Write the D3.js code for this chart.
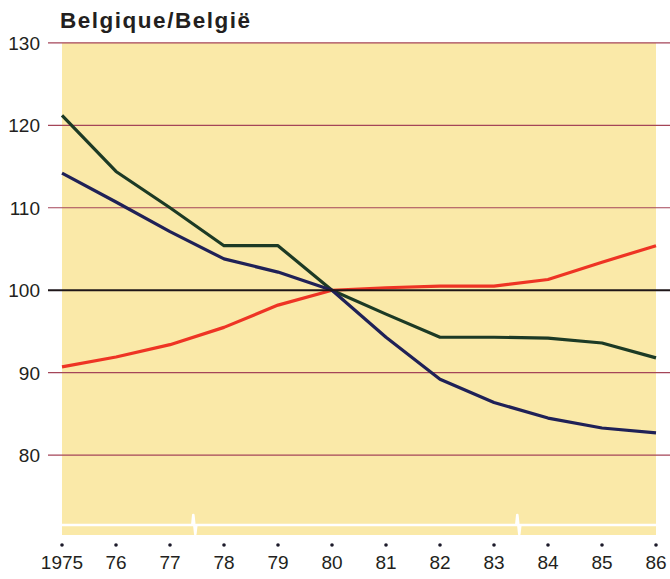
<!DOCTYPE html>
<html>
<head>
<meta charset="utf-8">
<script src="https://cdn.jsdelivr.net/npm/d3@7"></script>
<style>
  html, body { margin: 0; padding: 0; background: #ffffff; }
  svg { display: block; }
  text { font-family: "Liberation Sans", Arial, Helvetica, sans-serif; fill: #231f20; }
</style>
</head>
<body>
<svg id="chart" width="670" height="579"></svg>
<script>
// ---- data ----
const title = "Belgique/België";
const years = [1975, 1976, 1977, 1978, 1979, 1980, 1981, 1982, 1983, 1984, 1985, 1986];
const yearLabels = ["1975", "76", "77", "78", "79", "80", "81", "82", "83", "84", "85", "86"];
const yTicks = [80, 90, 100, 110, 120, 130];
const redSeries   = [90.7, 91.9, 93.4, 95.5, 98.2, 100.0, 100.3, 100.5, 100.5, 101.3, 103.4, 105.4];
const greenSeries = [121.2, 114.4, 110.0, 105.4, 105.4, 100.0, 97.1, 94.3, 94.3, 94.2, 93.6, 91.8];
const navySeries  = [114.2, 110.7, 107.1, 103.8, 102.2, 100.0, 94.3, 89.2, 86.4, 84.5, 83.3, 82.7];
const breakPositions = [1977.45, 1983.45];

// ---- layout ----
const svg = d3.select("#chart");
const x = d3.scaleLinear().domain([1975, 1986]).range([62, 656]);
const y = d3.scaleLinear().domain([80, 130]).range([455.2, 42.8]);

const plotLeft = 62, plotRight = 656, plotTop = y(130), plotBottom = 535;

// yellow background
svg.append("rect")
  .attr("x", plotLeft).attr("y", plotTop)
  .attr("width", plotRight - plotLeft).attr("height", plotBottom - plotTop)
  .attr("fill", "#fae9a8");

// gridlines
svg.append("g").selectAll("line")
  .data(yTicks.filter(d => d !== 100))
  .join("line")
  .attr("x1", 48).attr("x2", 670)
  .attr("y1", d => y(d)).attr("y2", d => y(d))
  .attr("stroke", "#a44558").attr("stroke-width", 1.2);

// y labels
svg.append("g").selectAll("text")
  .data(yTicks)
  .join("text")
  .attr("x", 40).attr("y", d => y(d))
  .attr("dy", "0.36em")
  .attr("text-anchor", "end")
  .attr("font-size", 19)
  .text(d => d);

// white axis break line
const bx = breakPositions.map(b => x(b));
const by = 525;
let p = d3.path();
p.moveTo(plotLeft, by);
bx.forEach(xx => {
  p.lineTo(xx - 2, by);
  p.lineTo(xx - 1, by - 10);
  p.lineTo(xx + 1, by + 9);
  p.lineTo(xx + 2, by);
});
p.lineTo(plotRight, by);
svg.append("path").attr("d", p.toString())
  .attr("fill", "none").attr("stroke", "#ffffff").attr("stroke-width", 2.6)
  .attr("stroke-linejoin", "round");

// series lines
const line = d3.line().x((d, i) => x(years[i])).y(d => y(d));
const series = [
  { values: redSeries, color: "#ee3424" },
  { values: greenSeries, color: "#1c3a25" },
  { values: navySeries, color: "#1f2157" }
];
svg.append("g").selectAll("path")
  .data(series)
  .join("path")
  .attr("d", d => line(d.values))
  .attr("fill", "none")
  .attr("stroke", d => d.color)
  .attr("stroke-width", 3.2)
  .attr("stroke-linejoin", "round");

// 100 baseline
svg.append("line")
  .attr("x1", 48).attr("x2", 670)
  .attr("y1", y(100)).attr("y2", y(100))
  .attr("stroke", "#1e1618").attr("stroke-width", 2);

// x axis dots and labels
const xa = svg.append("g");
xa.selectAll("circle")
  .data(years)
  .join("circle")
  .attr("cx", d => x(d)).attr("cy", 545)
  .attr("r", 1.8).attr("fill", "#1c1a2a");
xa.selectAll("text")
  .data(years)
  .join("text")
  .attr("x", d => x(d)).attr("y", 569)
  .attr("text-anchor", "middle")
  .attr("font-size", 19)
  .text((d, i) => yearLabels[i]);

// title
svg.append("text")
  .attr("x", 60).attr("y", 28)
  .attr("font-size", 22.5)
  .attr("font-weight", "bold")
  .attr("textLength", 190)
  .attr("lengthAdjust", "spacing")
  .text(title);
</script>
</body>
</html>
